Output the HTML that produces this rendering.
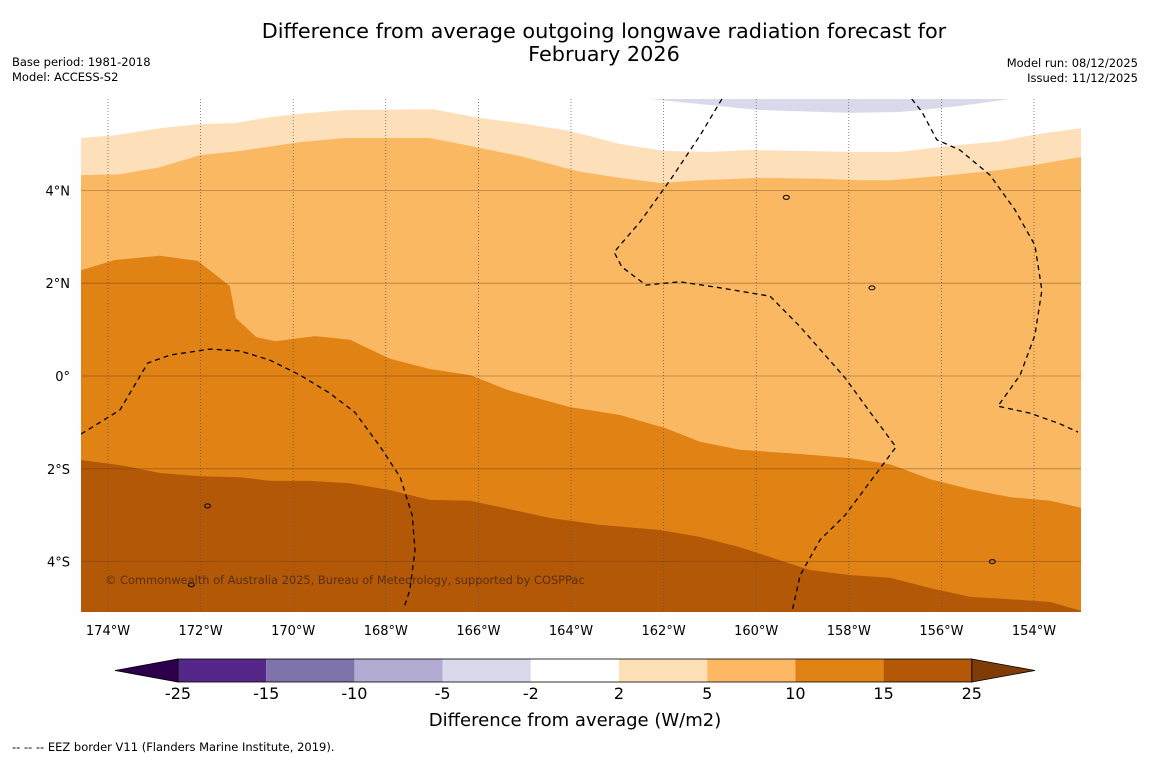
<!DOCTYPE html>
<html><head><meta charset="utf-8">
<style>
body{margin:0;background:#fff;width:1150px;height:758px;overflow:hidden;font-family:"Liberation Sans","DejaVu Sans",sans-serif;}
svg text{font-family:"DejaVu Sans","Liberation Sans",sans-serif;}
</style></head>
<body>
<svg id="chart" width="1150" height="758" viewBox="0 0 1150 758" xmlns="http://www.w3.org/2000/svg">
<rect width="1150" height="758" fill="#fefefe"/>
<text x="604" y="38" font-size="20.8" text-anchor="middle" fill="#000">Difference from average outgoing longwave radiation forecast for</text>
<text x="604" y="61" font-size="20.8" text-anchor="middle" fill="#000">February 2026</text>
<text x="12" y="66" font-size="11.5">Base period: 1981-2018</text>
<text x="12" y="81" font-size="11.5">Model: ACCESS-S2</text>
<text x="1138" y="67" font-size="11.5" text-anchor="end">Model run: 08/12/2025</text>
<text x="1138" y="82" font-size="11.5" text-anchor="end">Issued: 11/12/2025</text>
<g id="map"></g>
<g id="cbar"></g>
<text x="575" y="726" font-size="18" text-anchor="middle">Difference from average (W/m2)</text>
<text x="12" y="751" font-size="11.5">--  --  -- EEZ border V11 (Flanders Marine Institute, 2019).</text>
</svg>
<script>
// Contour boundaries (lon, lat)
const b1Lon=[-174.58,-173.85,-172.88,-172.01,-171.26,-170.50,-169.85,-168.88,-166.98,-165.97,-165.10,-164.02,-162.94,-161.97,-161.00,-160.13,-159.05,-157.97,-156.89,-155.81,-154.73,-153.87,-152.98];
const b1Lat=[5.13,5.19,5.34,5.43,5.45,5.58,5.65,5.73,5.75,5.56,5.45,5.28,5.0,4.85,4.83,4.87,4.85,4.83,4.83,4.96,5.06,5.22,5.34];
const b2Lon=[-174.58,-173.74,-172.88,-172.01,-171.15,-169.85,-168.88,-167.05,-166.18,-165.10,-163.81,-162.94,-162.08,-161.21,-159.92,-158.62,-157.76,-157.11,-155.81,-154.73,-153.87,-152.98];
const b2Lat=[4.33,4.35,4.50,4.76,4.85,5.04,5.13,5.13,4.96,4.74,4.40,4.27,4.16,4.22,4.27,4.25,4.22,4.22,4.33,4.44,4.57,4.72];
const b3Lon=[-174.58,-173.85,-172.88,-172.06,-171.37,-171.24,-170.80,-170.39,-169.53,-168.77,-167.91,-167.05,-166.18,-165.32,-164.02,-162.94,-161.97,-161.21,-160.35,-159.05,-157.97,-157.11,-156.25,-155.38,-154.52,-153.65,-152.98];
const b3Lat=[2.28,2.50,2.59,2.48,1.94,1.25,0.84,0.75,0.86,0.78,0.37,0.15,0.02,-0.32,-0.67,-0.84,-1.12,-1.42,-1.59,-1.68,-1.77,-1.90,-2.22,-2.44,-2.61,-2.69,-2.84];
const b4Lon=[-174.58,-173.74,-172.88,-172.01,-171.15,-170.50,-169.64,-168.77,-167.91,-167.05,-166.18,-165.32,-164.45,-163.37,-162.08,-161.21,-160.35,-159.49,-158.84,-157.97,-157.11,-156.25,-155.38,-154.52,-153.65,-152.98];
const b4Lat=[-1.81,-1.92,-2.09,-2.16,-2.18,-2.26,-2.26,-2.31,-2.46,-2.67,-2.69,-2.87,-3.06,-3.21,-3.32,-3.47,-3.69,-3.97,-4.18,-4.29,-4.35,-4.57,-4.76,-4.81,-4.87,-5.06];
const gLon=[-162.29,-161.21,-159.92,-157.97,-156.89,-155.60,-154.52];
const gLat=[5.97,5.86,5.73,5.67,5.69,5.82,5.97];
// EEZ borders
const eA_Lon=[-174.58,-173.74,-173.14,-172.66,-171.80,-171.15,-170.50,-169.85,-169.21,-168.67,-168.13,-167.69,-167.43,-167.37,-167.48,-167.61];
const eA_Lat=[-1.25,-0.73,0.28,0.45,0.58,0.54,0.34,0.02,-0.37,-0.78,-1.51,-2.18,-3.00,-3.75,-4.61,-5.0];
const eB_Lon=[-160.74,-161.21,-161.86,-162.51,-163.07,-162.90,-162.38,-161.65,-160.78,-159.70,-159.05,-158.08,-157.54,-156.98,-157.54,-158.08,-158.62,-159.05,-159.23];
const eB_Lat=[5.97,5.19,4.22,3.32,2.67,2.35,1.96,2.03,1.90,1.72,1.06,-0.04,-0.78,-1.53,-2.28,-3.00,-3.53,-4.29,-5.09];
const eC_Lon=[-156.64,-156.42,-156.10,-155.60,-154.95,-154.41,-153.98,-153.83,-153.98,-154.30,-154.78,-154.09,-153.44,-153.05];
const eC_Lat=[5.97,5.69,5.09,4.87,4.33,3.58,2.82,1.85,0.88,0.02,-0.65,-0.80,-1.03,-1.21];
const lonTicks=[-174,-172,-170,-168,-166,-164,-162,-160,-158,-156,-154];
const latTicks=[4,2,0,-2,-4];
const cbLevels=["-25","-15","-10","-5","-2","2","5","10","15","25"];
const cbColors=["#542788","#8073ac","#b2abd2","#d8daeb","#ffffff","#fee0b6","#fdb863","#e08214","#b35806"];

const NS="http://www.w3.org/2000/svg";
const X0=81,X1=1081,Y0=99,Y1=612;
const sx=lon=>108+(lon+174)*46.3;
const sy=lat=>376-lat*46.4;
function mk(tag,attrs,parent){const e=document.createElementNS(NS,tag);for(const k in attrs)e.setAttribute(k,attrs[k]);parent.appendChild(e);return e;}
const map=document.getElementById('map');
const defs=mk('defs',{},map);
const cp=mk('clipPath',{id:'clip'},defs);
mk('rect',{x:X0,y:Y0,width:X1-X0,height:Y1-Y0},cp);
const g=mk('g',{'clip-path':'url(#clip)'},map);
mk('rect',{x:X0,y:Y0,width:X1-X0,height:Y1-Y0,fill:'#fff'},g);
function linePts(lo,la){return lo.map((v,i)=>sx(v).toFixed(1)+','+sy(la[i]).toFixed(1));}
function band(lo,la,col,name){
  const pts=linePts(lo,la);
  pts.push(X1+5+','+(Y1+5),(X0-5)+','+(Y1+5));
  const p=mk('polygon',{points:pts.join(' '),fill:col},g);
  
  
}
band(b1Lon,b1Lat,'#fde0b9','band-2-to-5');
band(b2Lon,b2Lat,'#fbb863','band-5-to-10');
band(b3Lon,b3Lat,'#e08214','band-10-to-15');
band(b4Lon,b4Lat,'#b35806','band-15-to-25');
{const pts=linePts(gLon,gLat);const p=mk('polygon',{points:pts.join(' '),fill:'#d8daeb'},g);

}
// grid
lonTicks.forEach(l=>{const e=mk('line',{x1:sx(l),x2:sx(l),y1:Y0,y2:Y1,stroke:'#555','stroke-width':0.7,'stroke-dasharray':'1,2'},g);

});
latTicks.forEach(l=>{const e=mk('line',{x1:X0,x2:X1,y1:sy(l),y2:sy(l),stroke:'rgba(90,50,20,0.45)','stroke-width':0.8},g);

});
// EEZ
[[eA_Lon,eA_Lat],[eB_Lon,eB_Lat],[eC_Lon,eC_Lat]].forEach(([lo,la])=>{
  const e=mk('polyline',{points:linePts(lo,la).join(' '),fill:'none',stroke:'#000','stroke-width':1.3,'stroke-dasharray':'5,4'},g);
  
  
});
// islands
[[-159.35,3.85],[-157.5,1.9],[-171.85,-2.8],[-154.9,-4.0],[-172.2,-4.5]].forEach(([lo,la])=>{
  const e=mk('ellipse',{cx:sx(lo),cy:sy(la),rx:3,ry:2,fill:'none',stroke:'#000','stroke-width':1},g);
  
  
});
const cr=mk('text',{x:105,y:584,'font-size':11.4,fill:'#5a2f10'},g);
cr.textContent='© Commonwealth of Australia 2025, Bureau of Meteorology, supported by COSPPac';


// tick labels
lonTicks.forEach(l=>{const t=mk('text',{x:sx(l),y:635,'font-size':13,'text-anchor':'middle'},map);
t.textContent=Math.abs(l)+'°W';

});
latTicks.forEach(l=>{const t=mk('text',{x:70,y:sy(l)+5,'font-size':13,'text-anchor':'end'},map);
t.textContent=l===0?'0°':Math.abs(l)+'°'+(l>0?'N':'S');

});
// colorbar
const cb=document.getElementById('cbar');
const cx0=178,cw=88.2,cyT=659,cyB=682;
const lt=mk('polygon',{points:`115,670.5 ${cx0},${cyT} ${cx0},${cyB}`,fill:'#2d004b',stroke:'#000','stroke-width':0.8},cb);


cbColors.forEach((c,i)=>{const r=mk('rect',{x:cx0+i*cw,y:cyT,width:cw,height:cyB-cyT,fill:c},cb);

});
const xe=cx0+cbColors.length*cw;
const rt=mk('polygon',{points:`${xe},${cyT} 1035,670.5 ${xe},${cyB}`,fill:'#7f3b08',stroke:'#000','stroke-width':0.8},cb);


mk('rect',{x:cx0,y:cyT,width:xe-cx0,height:cyB-cyT,fill:'none',stroke:'#000','stroke-width':0.8},cb);
cbLevels.forEach((v,i)=>{const t=mk('text',{x:cx0+i*cw,y:699,'font-size':16,'text-anchor':'middle'},cb);
t.textContent=v;

});
</script>
</body></html>
